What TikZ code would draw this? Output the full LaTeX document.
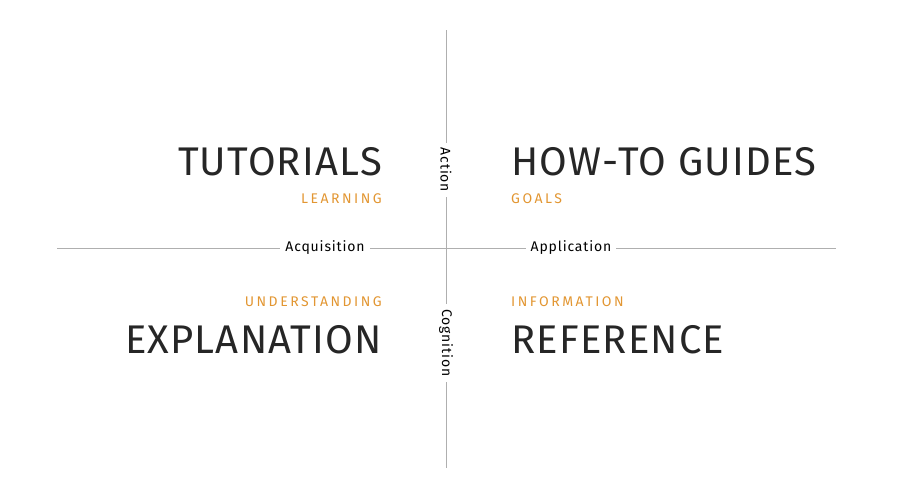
\documentclass[tikz,border=0pt]{standalone}
\usepackage{fontspec}
\setmainfont{Fira Sans}
\newfontfamily\spaced[LetterSpace=18]{Fira Sans}
\newfontfamily\axisfont[LetterSpace=6]{Fira Sans}
\definecolor{docorange}{RGB}{226,150,50}
\definecolor{axisgray}{RGB}{175,175,175}
\tikzset{
  title/.style={font=\fontsize{40}{40}\selectfont\addfontfeature{LetterSpace=3}, text=black!85, inner sep=0pt},
  facet/.style={font=\spaced\fontsize{14}{14}\selectfont, text=docorange, inner sep=0pt},
  axislabel/.style={font=\axisfont\fontsize{14}{14}\selectfont, fill=white, inner sep=5pt}
}
\begin{document}
\begin{tikzpicture}[x=1pt,y=-1pt]
  \useasboundingbox (0,0) rectangle (912,490);
  % axes
  \coordinate (top) at (446,30);
  \coordinate (bottom) at (446,468);
  \coordinate (left) at (57,248);
  \coordinate (right) at (836,248);
  \draw[axisgray] (top) -- (bottom);
  \draw[axisgray] (left) -- (right);

  % axis labels
  \node[axislabel] (acq) at (325,248) {Acquisition};
  \node[axislabel] (app) at (571,248) {Application};
  \node[axislabel, rotate=-90] (act) at (446,170) {Action};
  \node[axislabel, rotate=-90] (cog) at (446,343) {Cognition};

  % quadrants
  \node[title, anchor=base east] (tut) at (382,175) {TUTORIALS};
  \node[facet, anchor=base east] (learn) at (382,203) {LEARNING};
  \node[title, anchor=base west] (how) at (511,175) {HOW-TO GUIDES};
  \node[facet, anchor=base west] (goals) at (511,203) {GOALS};
  \node[facet, anchor=base east] (und) at (382,306) {UNDERSTANDING};
  \node[title, anchor=base east] (expl) at (382,353) {EXPLANATION};
  \node[facet, anchor=base west] (info) at (511,306) {INFORMATION};
  \node[title, anchor=base west] (ref) at (511,353) {REFERENCE};
\end{tikzpicture}
\end{document}
